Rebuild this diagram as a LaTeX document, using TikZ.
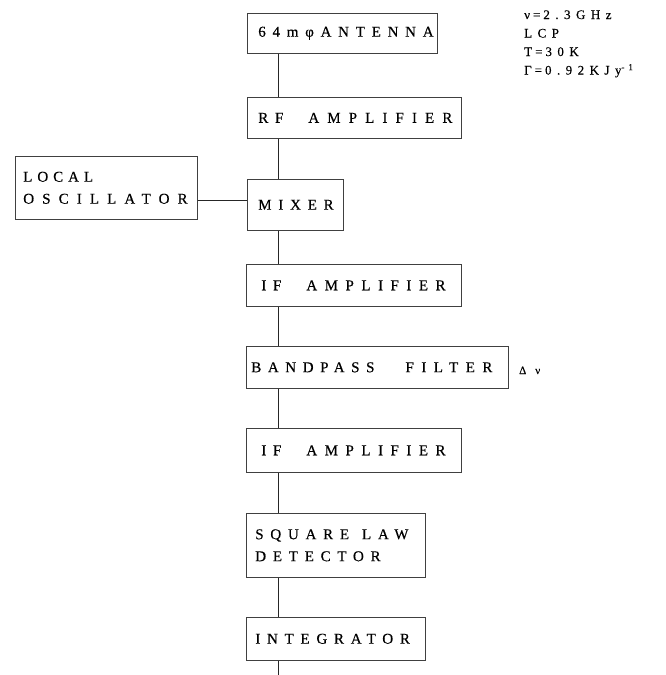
\documentclass[tikz,border=0pt]{standalone}
\usepackage{fontspec}
\setmainfont{Liberation Serif}
\newfontfamily\boxfont[LetterSpace=45,FakeBold=0.4]{Liberation Serif}
\newfontfamily\notefont[LetterSpace=42,FakeBold=0.3]{Liberation Serif}
\newcommand{\lsp}[2]{{\addfontfeature{LetterSpace=#1}#2}}
\begin{document}
\begin{tikzpicture}[x=1pt,y=-1pt,
  blk/.style={draw=black!75, line width=0.6pt, inner xsep=11pt, inner ysep=0pt,
    align=left, anchor=north west, font=\boxfont\fontsize{15}{22}\selectfont},
  wire/.style={draw=black!85, line width=0.7pt},
  note/.style={anchor=base west, inner sep=0pt, font=\notefont\fontsize{13}{15}\selectfont}]
\useasboundingbox (0,0) rectangle (666,675);
% blocks
\node[blk, text width=168pt, minimum height=40pt] (ant) at (247,13) {64mφANTENNA};
\node[blk, text width=192pt, minimum height=41pt] (rf) at (247,97) {RF\hspace{20pt} \lsp{54}{AMPLIFIER}};
\node[blk, text width=160pt, minimum height=63pt] (lo) at (15,156) {\hspace*{-3pt}\lsp{33}{LOCAL}\\\hspace*{-3pt}\lsp{54}{OSCILLATOR}};
\node[blk, text width=74pt, minimum height=51pt] (mix) at (247,179) {MIXER};
\node[blk, text width=193pt, minimum height=42pt] (if1) at (246,264) {\hspace*{4pt}IF\hspace{20pt} \lsp{50}{AMPLIFIER}};
\node[blk, text width=240pt, minimum height=42pt] (bp) at (246,346) {\hspace*{-6pt}\lsp{44}{BANDPASS}\hspace{26pt} \lsp{50}{FILTER}};
\node[blk, text width=193pt, minimum height=44pt] (if2) at (246,428) {\hspace*{4pt}IF\hspace{20pt} \lsp{50}{AMPLIFIER}};
\node[blk, text width=157pt, minimum height=64pt] (sld) at (246,513) {\hspace*{-2pt}SQUARE\hspace{8pt} LAW\\\hspace*{-2pt}DETECTOR};
\node[blk, text width=157pt, minimum height=43pt] (int) at (246,617) {\hspace*{-2pt}INTEGRATOR};
% helper coordinates
\coordinate (v) at (278,0);
\coordinate (h) at (0,200);
\coordinate (out) at (278,675);
% connectors
\draw[wire] (ant.south -| v) -- (rf.north -| v);
\draw[wire] (rf.south -| v) -- (mix.north -| v);
\draw[wire] (lo.east |- h) -- (mix.west |- h);
\draw[wire] (mix.south -| v) -- (if1.north -| v);
\draw[wire] (if1.south -| v) -- (bp.north -| v);
\draw[wire] (bp.south -| v) -- (if2.north -| v);
\draw[wire] (if2.south -| v) -- (sld.north -| v);
\draw[wire] (sld.south -| v) -- (int.north -| v);
\draw[wire] (int.south -| v) -- (out);
% bandwidth label
\node[note, font=\notefont\fontsize{11}{13}\selectfont] (dnu) at (519,374) {Δ\hspace{9pt}ν};
% parameters
\node[note] (p1) at (524,19) {ν\hspace{3pt}=\hspace{3pt}2.3GHz};
\node[note] (p2) at (524,37.5) {LCP};
\node[note] (p3) at (524,56) {T\hspace{3pt}=\hspace{3pt}30K};
\node[note] (p4) at (524,74.5) {Γ\hspace{3pt}=\hspace{3pt}0.92KJy\textsuperscript{-1}};
\end{tikzpicture}
\end{document}
